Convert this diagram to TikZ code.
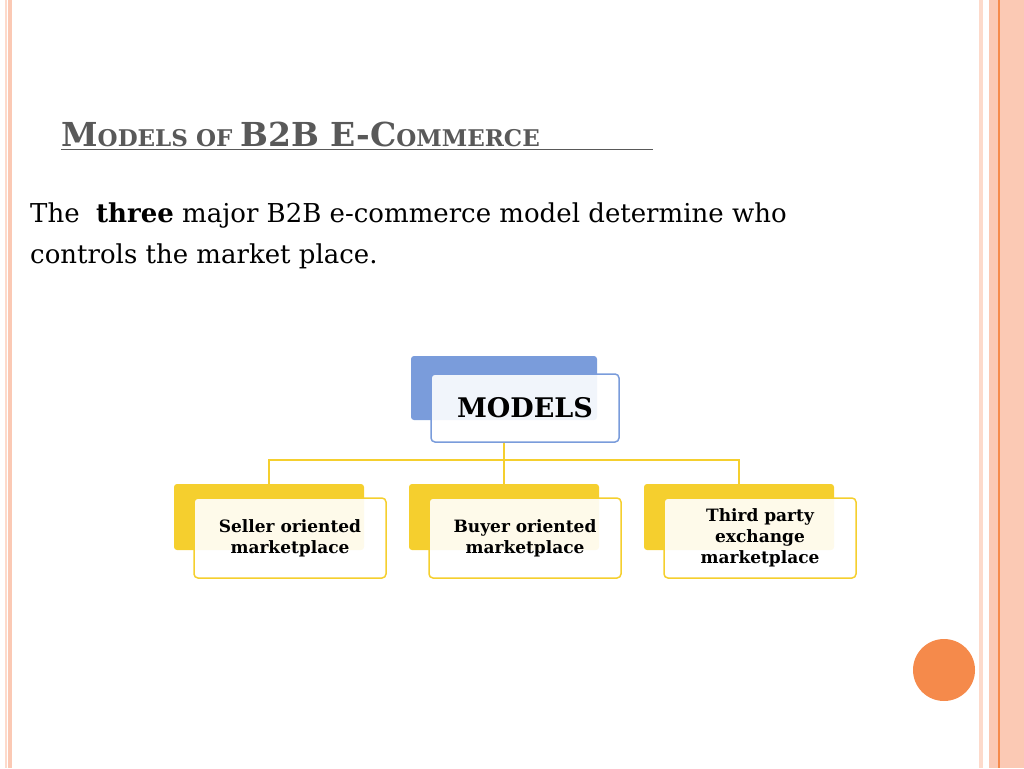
\documentclass[tikz,border=0pt]{standalone}
\usepackage{fontspec}
\setmainfont{DejaVu Serif}
\definecolor{salmon}{HTML}{FBC9B4}
\definecolor{salmonlt}{HTML}{FDDACB}
\definecolor{accent}{HTML}{F58A4B}
\definecolor{titlegray}{HTML}{595959}
\definecolor{modelblue}{HTML}{7A9CDB}
\definecolor{gold}{HTML}{F5CF2E}
\tikzset{
  back/.style={fill=#1,rounded corners=3pt,minimum width=190pt,minimum height=66pt},
  front/.style={draw=#1,line width=1.5pt,fill=white,fill opacity=0.9,text opacity=1,
    rounded corners=4pt,minimum width=192pt,minimum height=80pt,align=center,
    font=\bfseries\fontsize{17}{21}\selectfont},
  link/.style={draw=gold,line width=2pt}
}
\begin{document}
\begin{tikzpicture}[x=1pt,y=-1pt]
\useasboundingbox (0,0) rectangle (1024,768);
% page borders
\fill[salmonlt] (5,0) rectangle (7,768);
\fill[salmon] (8,0) rectangle (12,768);
\fill[salmonlt] (979,0) rectangle (983,768);
\fill[salmon] (989,0) rectangle (998,768);
\fill[accent] (998,0) rectangle (999.5,768);
\fill[salmon] (999.5,0) rectangle (1024,768);
\fill[accent] (944,670) circle (31);
% title and text
\node[anchor=base west,inner sep=0pt,text=titlegray,font=\bfseries\fontsize{33}{40}\selectfont] (title) at (61,146)
  {M\fontsize{23}{30}\selectfont ODELS OF \fontsize{33}{40}\selectfont B2B E-C\fontsize{23}{30}\selectfont OMMERCE};
\draw[titlegray,line width=1pt] (title.south west) ++(0,3) -- ++(592,0);
\node[anchor=base west,inner sep=0pt,align=left,font=\fontsize{26}{41}\selectfont] (intro) at (30,263)
  {The\ \ \textbf{three} major B2B e-commerce model determine who\\controls the market place.};
% boxes
\node[back=modelblue,minimum width=186pt,minimum height=64pt] (mback) at (504,388) {};
\node[front=modelblue,minimum width=188pt,minimum height=68pt,font=\bfseries\fontsize{27}{32}\selectfont] (models) at (525,408) {MODELS};
\node[back=gold] (sback) at (269,517) {};
\node[front=gold] (seller) at (290,538) {Seller oriented\\marketplace};
\node[back=gold] (bback) at (504,517) {};
\node[front=gold] (buyer) at (525,538) {Buyer oriented\\marketplace};
\node[back=gold] (tback) at (739,517) {};
\node[front=gold] (third) at (760,538) {Third party\\exchange\\marketplace};
% connectors
\coordinate (hub) at (504,460);
\draw[link] (models.south -| hub) -- (hub);
\draw[link] (sback.north) |- (hub) -| (tback.north);
\draw[link] (hub) -- (bback.north);
\end{tikzpicture}
\end{document}
